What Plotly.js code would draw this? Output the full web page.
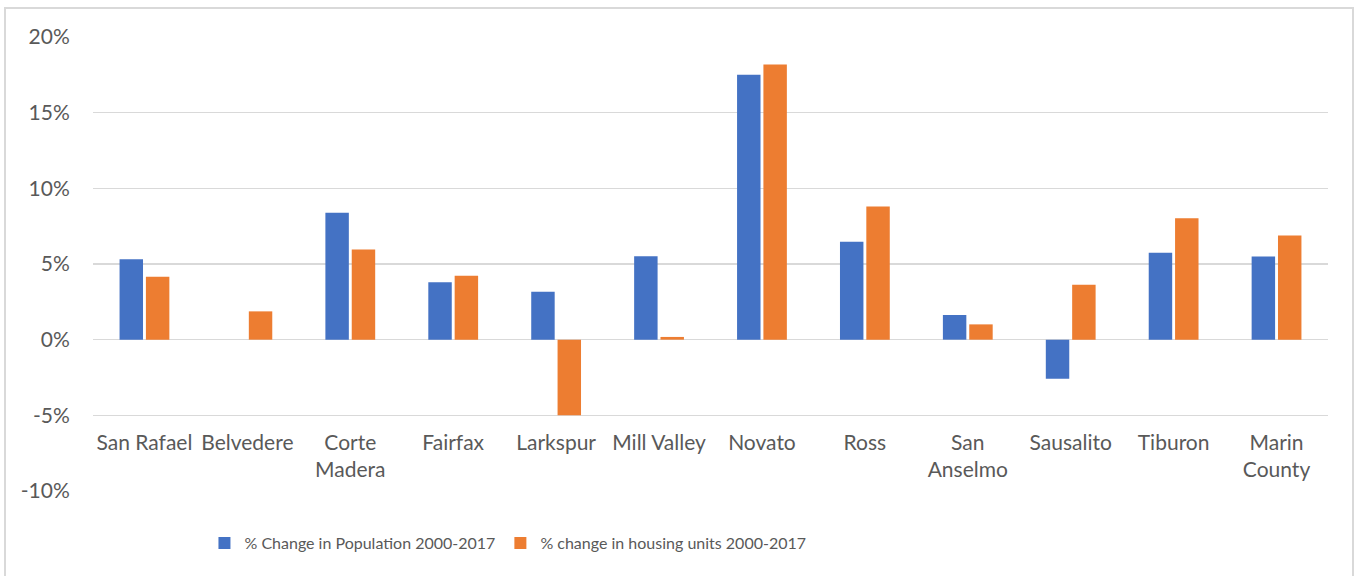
<!DOCTYPE html>
<html>
<head>
<meta charset="utf-8">
<script src="https://cdn.plot.ly/plotly-3.0.1.min.js"></script>
<style>
  html, body { margin: 0; padding: 0; background: #fff; overflow: hidden; }
  #wrap { position: relative; width: 1358px; height: 576px; overflow: hidden; }
  #chart { width: 1358px; height: 576px; }
  #frame { position: absolute; left: 4px; top: 7px; width: 1350px; height: 600px;
           border: 2px solid #D9D9D9; box-sizing: border-box; pointer-events: none; }
</style>
</head>
<body>
<div id="wrap">
  <div id="chart"></div>
  <div id="frame"></div>
</div>
<script>
// Category labels (line breaks as in the reference)
const categories = ["San Rafael", "Belvedere", "Corte<br>Madera", "Fairfax", "Larkspur", "Mill Valley",
  "Novato", "Ross", "San<br>Anselmo", "Sausalito", "Tiburon", "Marin<br>County"];

// % change values
const populationChange = [5.32, 0, 8.38, 3.79, 3.17, 5.52, 17.5, 6.47, 1.63, -2.59, 5.74, 5.50];
const housingChange    = [4.16, 1.87, 5.96, 4.22, -5.0, 0.18, 18.19, 8.80, 1.01, 3.63, 8.03, 6.89];

const seriesNames = ["% Change in Population 2000-2017", "% change in housing units 2000-2017"];

// Y tick labels
const yTickVals = [-10, -5, 0, 5, 10, 15, 20];
const yTickText = ["-10%", "-5%", "0%", "5%", "10%", "15%", "20%"];

const FONT = "Lato, 'Open Sans', sans-serif";
const TEXT = "#595959";

const traces = [
  { type: "bar", name: seriesNames[0], x: categories, y: populationChange,
    marker: { color: "#4472C4" }, hoverinfo: "x+y" },
  { type: "bar", name: seriesNames[1], x: categories, y: housingChange,
    marker: { color: "#ED7D31" }, hoverinfo: "x+y" }
];

const layout = {
  width: 1358, height: 576,
  margin: { l: 93, r: 30, t: 37, b: 85 },
  paper_bgcolor: "#fff", plot_bgcolor: "#fff",
  font: { family: FONT, size: 21, color: TEXT },
  barmode: "group",
  bargap: 0.488,
  bargroupgap: 0.11,
  showlegend: true,
  legend: {
    orientation: "h", x: 0.336, xanchor: "center", y: -0.115, yanchor: "middle",
    font: { family: FONT, size: 16, color: TEXT },
    itemwidth: 30, traceorder: "normal"
  },
  xaxis: {
    type: "category",
    anchor: "free", position: 1/6,
    showgrid: false, showline: false, zeroline: false,
    ticks: "outside", ticklen: 8, tickcolor: "rgba(0,0,0,0)",
    tickfont: { family: FONT, size: 21, color: TEXT },
    fixedrange: true
  },
  yaxis: {
    range: [-10, 20],
    tickvals: yTickVals, ticktext: yTickText,
    showgrid: true, gridcolor: "#D9D9D9", gridwidth: 1.3,
    zeroline: true, zerolinecolor: "#D9D9D9", zerolinewidth: 1.3,
    showline: false,
    ticks: "outside", ticklen: 18, tickcolor: "rgba(0,0,0,0)",
    tickfont: { family: FONT, size: 21, color: TEXT },
    fixedrange: true
  }
};

Plotly.newPlot("chart", traces, layout, { displayModeBar: false, staticPlot: true });
</script>
</body>
</html>
